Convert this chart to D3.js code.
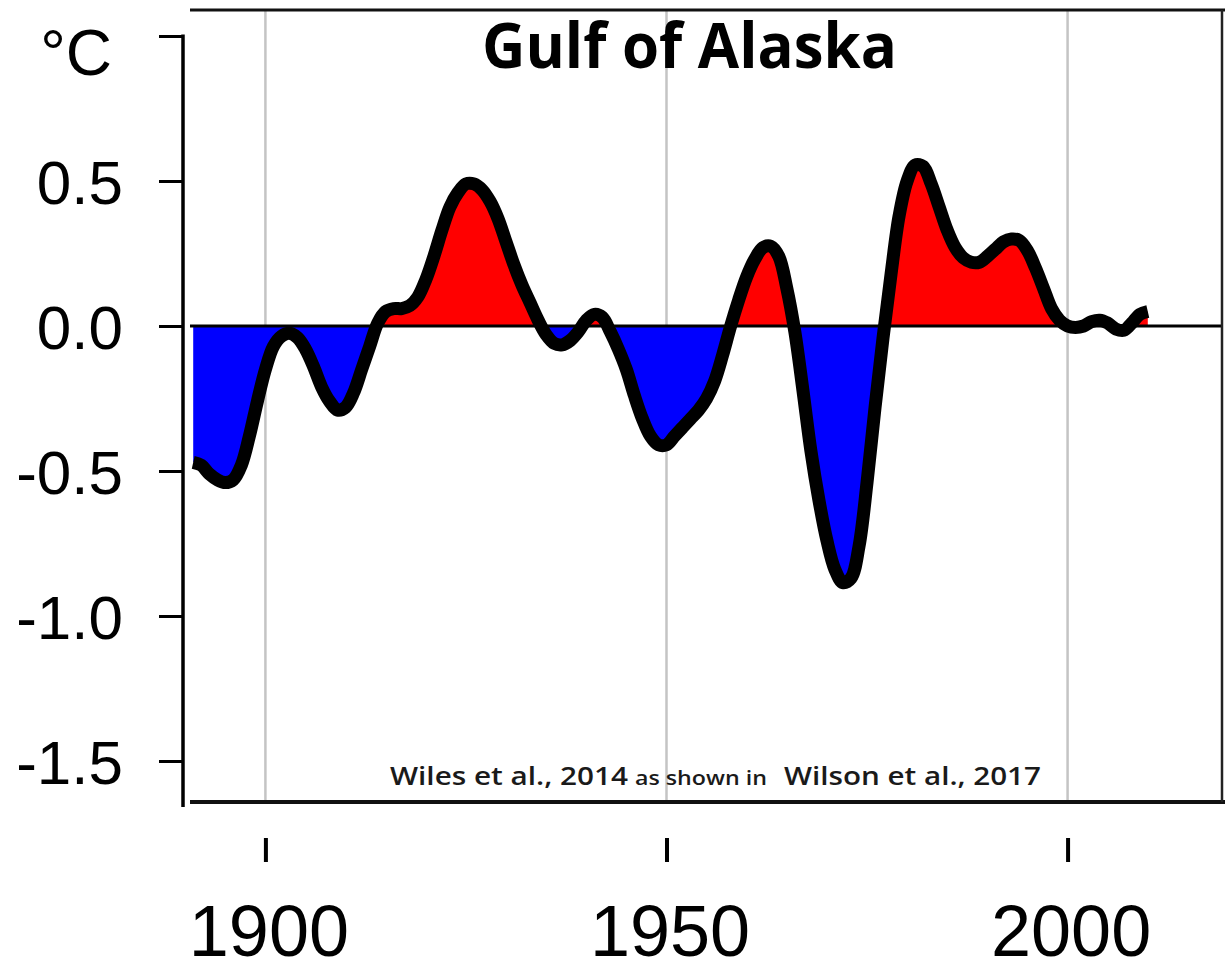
<!DOCTYPE html>
<html>
<head>
<meta charset="utf-8">
<script src="https://cdn.jsdelivr.net/npm/d3@7"></script>
<style>
  html, body { margin: 0; padding: 0; background: #ffffff; }
  svg { display: block; }
</style>
</head>
<body>
<svg id="chart" width="1225" height="971"></svg>
<script>
// ---- data ----
const years = [
  1891,1892,1893,1894,1895,1896,1897,1898,1899,1900,
  1901,1902,1903,1904,1905,1906,1907,1908,1909,1910,
  1911,1912,1913,1914,1915,1916,1917,1918,1919,1920,
  1921,1922,1923,1924,1925,1926,1927,1928,1929,1930,
  1931,1932,1933,1934,1935,1936,1937,1938,1939,1940,
  1941,1942,1943,1944,1945,1946,1947,1948,1949,1950,
  1951,1952,1953,1954,1955,1956,1957,1958,1959,1960,
  1961,1962,1963,1964,1965,1966,1967,1968,1969,1970,
  1971,1972,1973,1974,1975,1976,1977,1978,1979,1980,
  1981,1982,1983,1984,1985,1986,1987,1988,1989,1990,
  1991,1992,1993,1994,1995,1996,1997,1998,1999,2000,
  2001,2002,2003,2004,2005,2006,2007,2008,2009,2010
];
const anomaly = [
  -0.47,-0.48,-0.51,-0.53,-0.54,-0.53,-0.48,-0.38,-0.26,-0.15,
  -0.07,-0.035,-0.025,-0.04,-0.08,-0.14,-0.21,-0.26,-0.29,-0.28,
  -0.23,-0.15,-0.07,0.01,0.05,0.06,0.06,0.07,0.10,0.16,
  0.24,0.33,0.41,0.46,0.49,0.49,0.47,0.43,0.37,0.29,
  0.21,0.14,0.08,0.02,-0.03,-0.06,-0.065,-0.05,-0.02,0.02,
  0.04,0.03,-0.02,-0.08,-0.15,-0.24,-0.32,-0.38,-0.41,-0.41,
  -0.38,-0.35,-0.32,-0.29,-0.25,-0.19,-0.10,0.00,0.09,0.17,
  0.23,0.27,0.275,0.24,0.13,-0.02,-0.22,-0.43,-0.60,-0.74,
  -0.84,-0.885,-0.87,-0.76,-0.54,-0.28,-0.04,0.18,0.38,0.50,
  0.555,0.55,0.49,0.41,0.33,0.27,0.235,0.22,0.22,0.24,
  0.265,0.29,0.30,0.295,0.26,0.20,0.13,0.06,0.02,0.00,
  -0.005,0.00,0.015,0.02,0.01,-0.01,-0.015,0.01,0.04,0.05
];
const yTickValues = [1.0, 0.5, 0.0, -0.5, -1.0, -1.5];
const yTickLabels = ["", "0.5", "0.0", "-0.5", "-1.0", "-1.5"];
const xTickValues = [1900, 1950, 2000];
const xTickLabels = ["1900", "1950", "2000"];
const titleText = "Gulf of Alaska";
const unitText = "\u00B0C";
const sourceParts = ["Wiles et al., 2014", "as shown in", "Wilson et al., 2017"];

const data = years.map((yr, i) => ({ year: yr, value: anomaly[i] }));

// ---- layout ----
const svg = d3.select("#chart");
const plotLeft = 190, plotRight = 1222, plotTop = 10, plotBottom = 802;

const x = d3.scaleLinear().domain([1890.6, 2019.5]).range([190, 1224]);
const y = d3.scaleLinear().domain([-1.5, 1.0]).range([761, 36]);

const tickFont = "'Liberation Sans', Arial, sans-serif";

// gridlines
svg.append("g").selectAll("line")
  .data(xTickValues).enter().append("line")
  .attr("x1", d => x(d)).attr("x2", d => x(d))
  .attr("y1", plotTop).attr("y2", plotBottom)
  .attr("stroke", "#c4c4c4").attr("stroke-width", 2.5);

// fills
const defs = svg.append("defs");
defs.append("clipPath").attr("id", "clipAbove")
  .append("rect").attr("x", 0).attr("y", 0).attr("width", 1225).attr("height", y(0));
defs.append("clipPath").attr("id", "clipBelow")
  .append("rect").attr("x", 0).attr("y", y(0)).attr("width", 1225).attr("height", 971 - y(0));

const curve = d3.curveCatmullRom.alpha(0.5);
const area = d3.area()
  .x(d => x(d.year)).y0(y(0)).y1(d => y(d.value)).curve(curve);

svg.append("path").datum(data).attr("d", area)
  .attr("fill", "#ff0000").attr("clip-path", "url(#clipAbove)");
svg.append("path").datum(data).attr("d", area)
  .attr("fill", "#0000ff").attr("clip-path", "url(#clipBelow)");

// zero line
svg.append("line")
  .attr("x1", plotLeft).attr("x2", plotRight)
  .attr("y1", y(0)).attr("y2", y(0))
  .attr("stroke", "#000").attr("stroke-width", 3);

// curve
const line = d3.line().x(d => x(d.year)).y(d => y(d.value)).curve(curve);
svg.append("path").datum(data).attr("d", line)
  .attr("fill", "none").attr("stroke", "#000")
  .attr("stroke-width", 13).attr("stroke-linejoin", "round").attr("stroke-linecap", "butt");

// box
svg.append("line").attr("x1", plotLeft).attr("x2", 1225).attr("y1", plotTop).attr("y2", plotTop)
  .attr("stroke", "#111").attr("stroke-width", 3);
svg.append("line").attr("x1", plotLeft).attr("x2", 1225).attr("y1", plotBottom).attr("y2", plotBottom)
  .attr("stroke", "#111").attr("stroke-width", 4);
svg.append("line").attr("x1", plotRight).attr("x2", plotRight).attr("y1", plotTop).attr("y2", plotBottom)
  .attr("stroke", "#222").attr("stroke-width", 2.5);

// y axis
const yAxis = d3.axisLeft(y)
  .tickValues(yTickValues)
  .tickFormat((d, i) => yTickLabels[i])
  .tickSize(24).tickSizeOuter(0).tickPadding(36);
const gy = svg.append("g").attr("transform", "translate(183,0)").call(yAxis);
gy.select(".domain").remove();
gy.selectAll(".tick line").attr("stroke", "#000").attr("stroke-width", 3);
gy.selectAll(".tick text")
  .attr("font-family", tickFont).attr("font-size", 62).attr("fill", "#000")
  .attr("dy", "0.36em");
svg.append("line").attr("x1", 183).attr("x2", 183).attr("y1", y(1.0) - 1.5).attr("y2", 807)
  .attr("stroke", "#000").attr("stroke-width", 3.5);

// unit label
svg.append("text").attr("x", 112).attr("y", 75)
  .attr("text-anchor", "end")
  .attr("font-family", tickFont).attr("font-size", 64).attr("fill", "#000")
  .text(unitText);

// x axis
const xAxis = d3.axisBottom(x)
  .tickValues(xTickValues)
  .tickFormat((d, i) => xTickLabels[i])
  .tickSize(24).tickSizeOuter(0);
const gx = svg.append("g").attr("transform", "translate(0,838)").call(xAxis);
gx.select(".domain").remove();
gx.selectAll(".tick line").attr("stroke", "#000").attr("stroke-width", 4);
gx.selectAll(".tick text")
  .attr("font-family", tickFont).attr("font-size", 72).attr("fill", "#000")
  .attr("y", 118).attr("dy", 0).attr("dx", 3);

// title
svg.append("text").attr("x", 482).attr("y", 68)
  .attr("font-family", "'Open Sans', sans-serif").attr("font-weight", 700)
  .attr("font-size", 62).attr("fill", "#000")
  .attr("textLength", 415).attr("lengthAdjust", "spacingAndGlyphs")
  .text(titleText);

// source
const srcFont = "'Open Sans', sans-serif";
svg.append("text").attr("x", 390).attr("y", 785)
  .attr("font-family", srcFont).attr("font-weight", 600).attr("font-size", 25).attr("fill", "#1a1a1a")
  .attr("textLength", 238).attr("lengthAdjust", "spacingAndGlyphs")
  .text(sourceParts[0]);
svg.append("text").attr("x", 635).attr("y", 785)
  .attr("font-family", srcFont).attr("font-weight", 600).attr("font-size", 19).attr("fill", "#1a1a1a")
  .attr("textLength", 132).attr("lengthAdjust", "spacingAndGlyphs")
  .text(sourceParts[1]);
svg.append("text").attr("x", 784).attr("y", 785)
  .attr("font-family", srcFont).attr("font-weight", 600).attr("font-size", 25).attr("fill", "#1a1a1a")
  .attr("textLength", 257).attr("lengthAdjust", "spacingAndGlyphs")
  .text(sourceParts[2]);
</script>
</body>
</html>
